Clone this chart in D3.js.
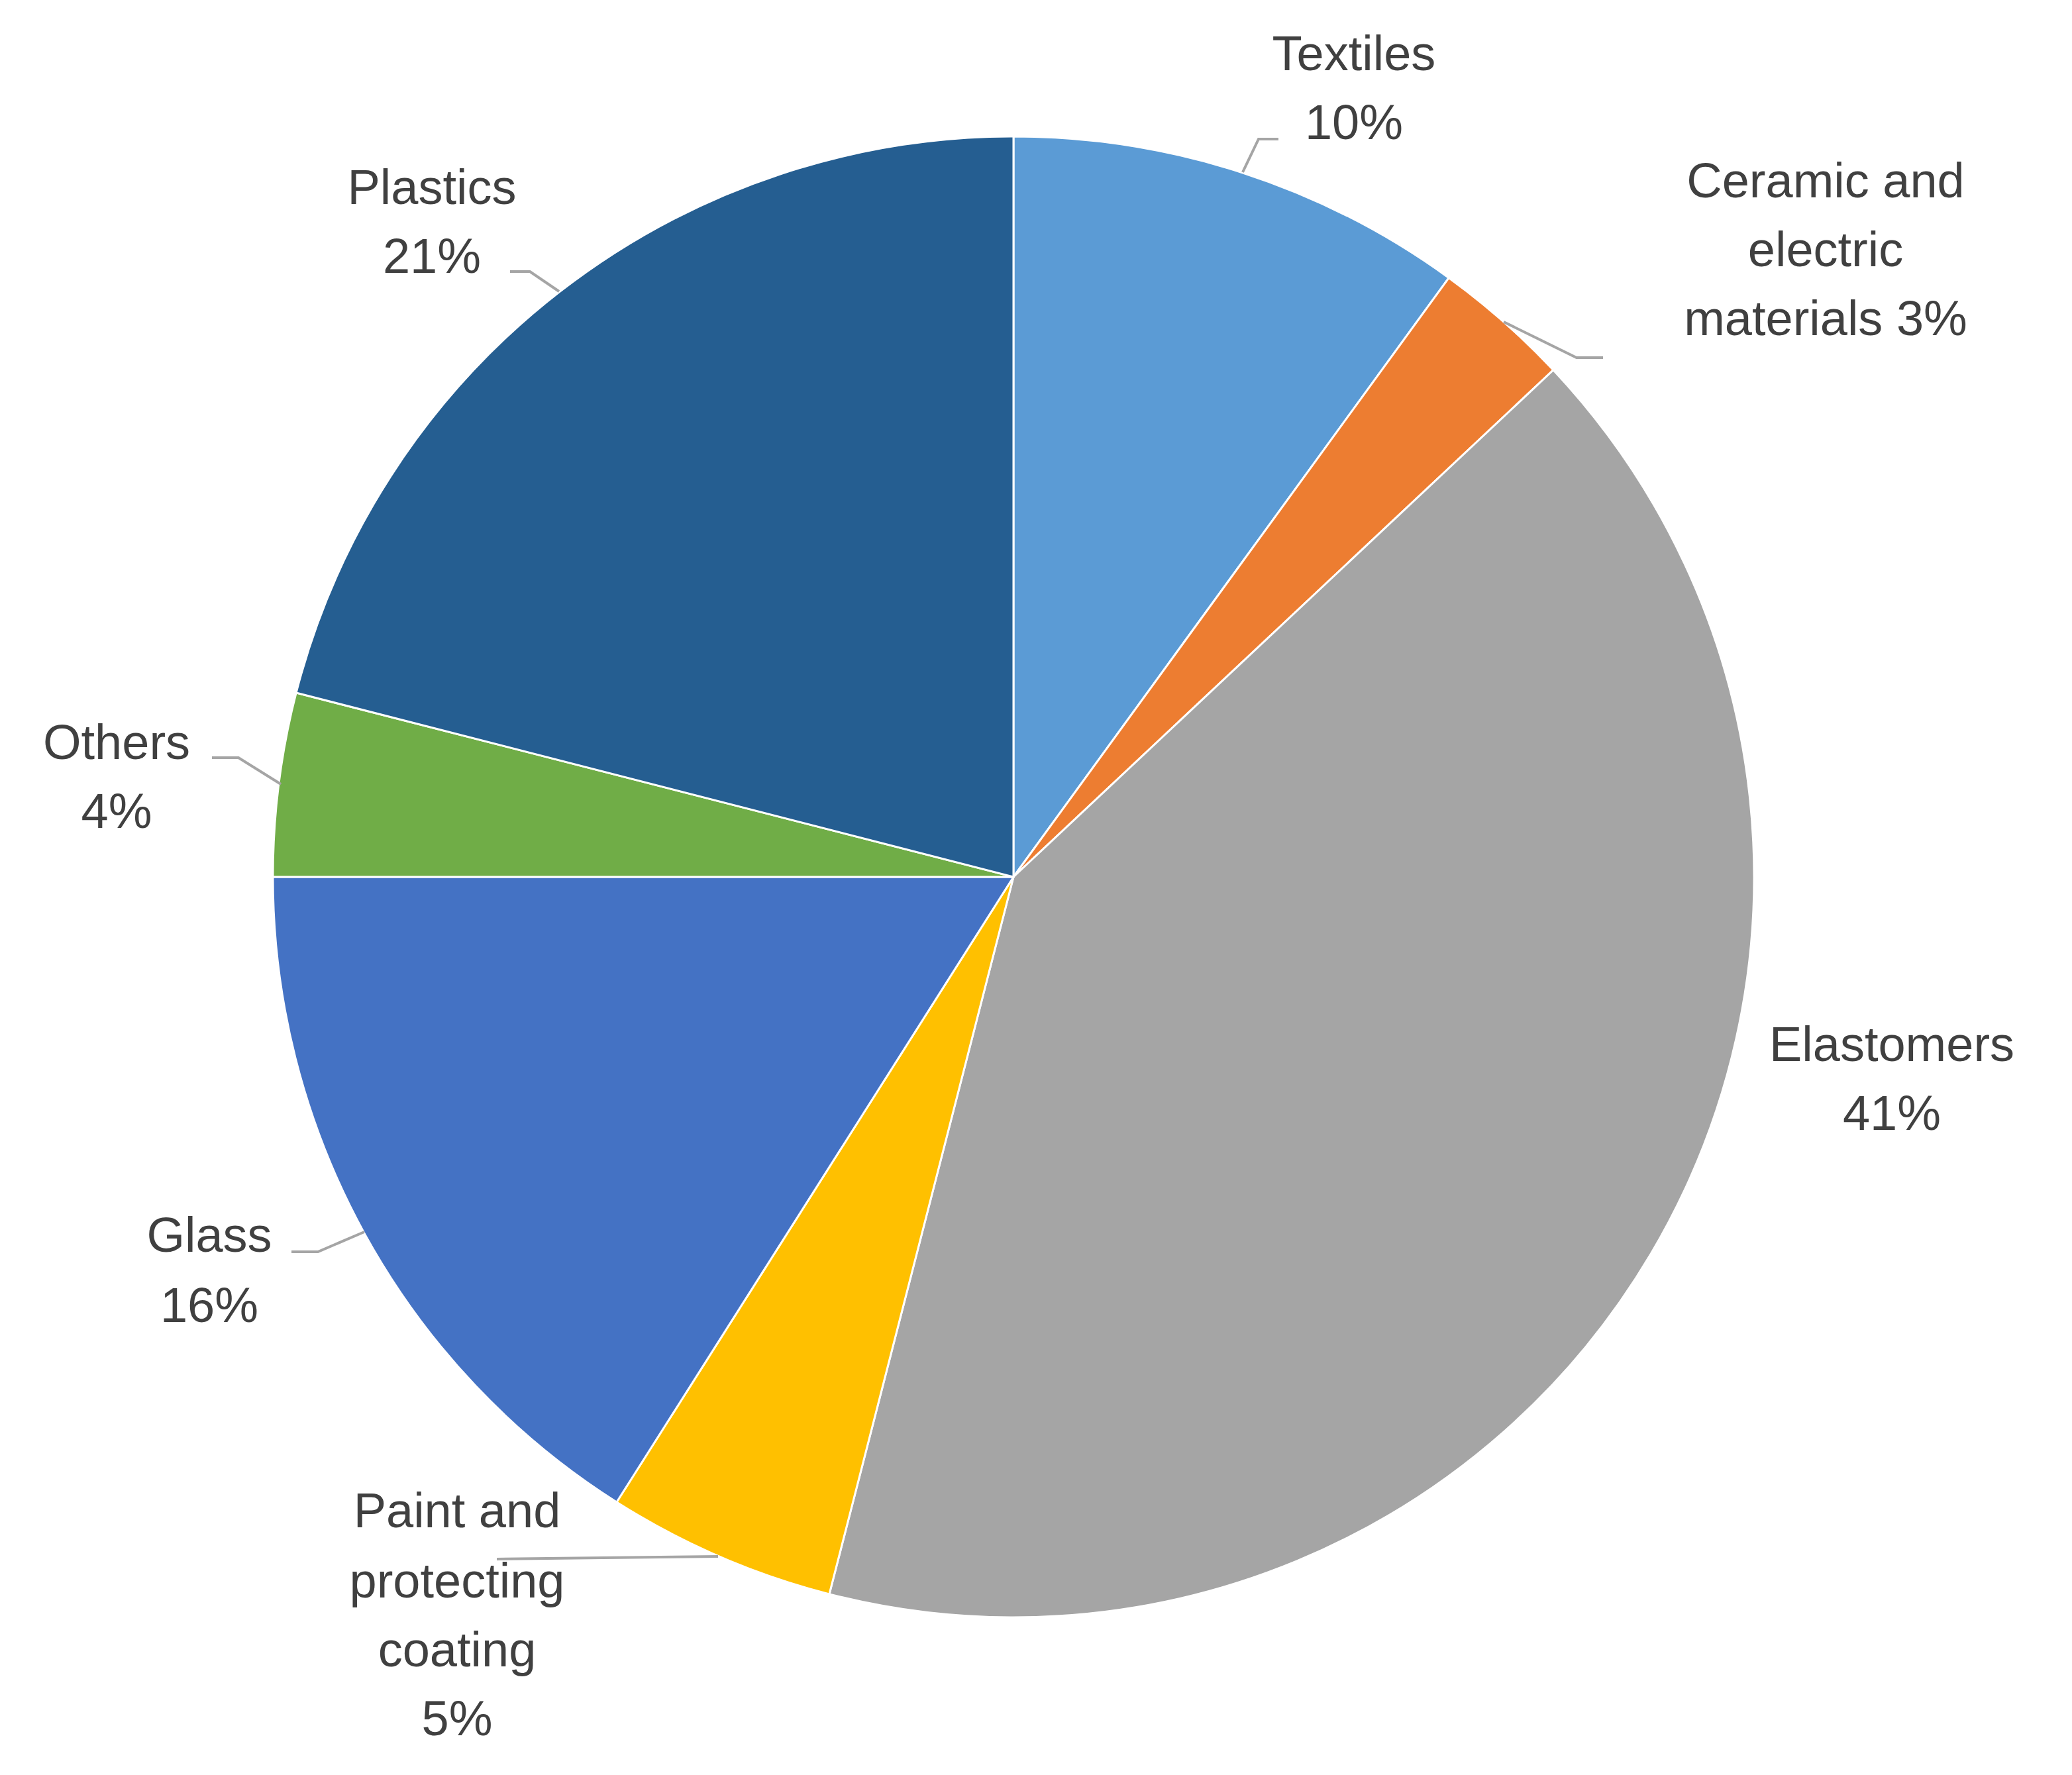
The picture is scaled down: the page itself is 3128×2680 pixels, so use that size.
<!DOCTYPE html>
<html><head><meta charset="utf-8">
<script src="https://cdn.jsdelivr.net/npm/d3@7"></script>
<style>body{margin:0;background:#fff}</style></head>
<body><svg id="c" width="3128" height="2680"></svg>
<script>
const categories = ["Textiles","Ceramic and electric materials","Elastomers","Paint and protecting coating","Glass","Others","Plastics"];
const values = [10,3,41,5,16,4,21];
const colors = ["#5B9BD5","#ED7D31","#A5A5A5","#FFC000","#4472C4","#70AD47","#255E91"];
const labelLines = [["Textiles","10%"],["Ceramic and","electric","materials 3%"],["Elastomers","41%"],["Paint and","protecting","coating","5%"],["Glass","16%"],["Others","4%"],["Plastics","21%"]];

const svg = d3.select("#c");
const cx=1530, cy=1324, R=1118;
const pie = d3.pie().sort(null).value(d=>d)(values);
const arc = d3.arc().innerRadius(0).outerRadius(R);
const g = svg.append("g").attr("transform",`translate(${cx},${cy})`);
g.selectAll("path").data(pie).join("path").attr("d",arc)
 .attr("fill",(d,i)=>colors[i]).attr("stroke","#fff").attr("stroke-width",3);

// label layout (display units x2)
const lab = [
 {x:1022,y:[40,92]},
 {x:1378,y:[136,188,240]},
 {x:1428,y:[788,840]},
 {x:345,y:[1140,1193,1245,1297]},
 {x:158,y:[932,985]},
 {x:88,y:[560,612]},
 {x:326,y:[141,193]}
];
const leaders = [
 [[938,130],[950,105],[965,105]],
 [[1135,243],[1190,270],[1210,270]],
 null,
 [[542,1175],[375,1177]],
 [[275,930],[240,945],[220,945]],
 [[212,592],[180,572],[160,572]],
 [[422,220],[400,205],[385,205]]
];
const line = d3.line().x(p=>p[0]*2).y(p=>p[1]*2);
leaders.forEach(l=>{ if(l) svg.append("path").attr("d",line(l)).attr("fill","none").attr("stroke","#A5A5A5").attr("stroke-width",4);});
lab.forEach((L,i)=>{
 labelLines[i].forEach((t,j)=>{
  svg.append("text").attr("x",L.x*2).attr("y",(L.y[j]+13)*2).attr("text-anchor","middle")
   .attr("font-family","Liberation Sans, Arial, sans-serif").attr("font-size",74).attr("fill","#404040").text(t);
 });
});
</script></body></html>
